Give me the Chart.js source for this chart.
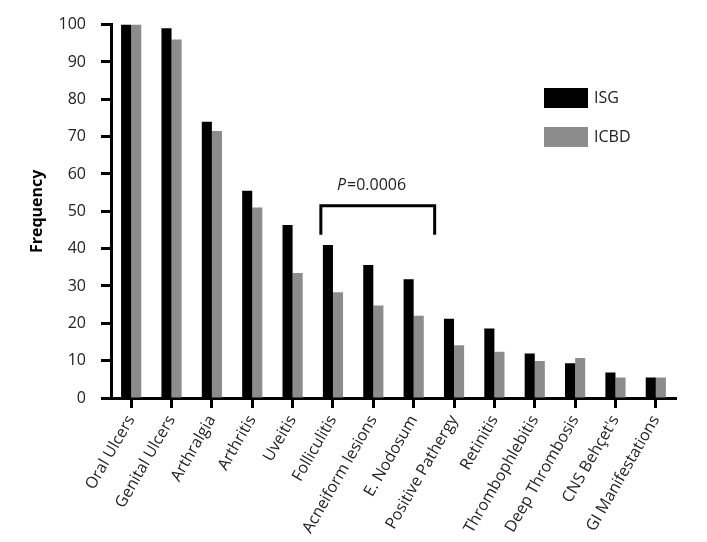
<!DOCTYPE html>
<html>
<head>
<meta charset="utf-8">
<script src="https://cdn.jsdelivr.net/npm/chart.js@4"></script>
<style>
  html, body { margin: 0; padding: 0; background: #fff; }
  #wrap { width: 707px; height: 542px; }
</style>
</head>
<body>
<div id="wrap"><canvas id="freqChart" width="707" height="542"></canvas></div>
<script>
const categories = [
  "Oral Ulcers", "Genital Ulcers", "Arthralgia", "Arthritis", "Uveitis",
  "Folliculitis", "Acneiform lesions", "E. Nodosum", "Positive Pathergy",
  "Retinitis", "Thrombophlebitis", "Deep Thrombosis", "CNS Behçet's",
  "GI Manifestations"
];
const isgValues = [100, 99, 74, 55.5, 46.3, 41, 35.6, 31.8, 21.2, 18.6, 11.9, 9.3, 6.8, 5.5];
const icbdValues = [100, 96, 71.5, 51, 33.5, 28.3, 24.8, 22, 14.1, 12.4, 9.9, 10.7, 5.5, 5.5];
const yTicks = [0, 10, 20, 30, 40, 50, 60, 70, 80, 90, 100];

const fontFam = "'Open Sans', 'Noto Sans', sans-serif";

// legend + P-value bracket drawn on top of the chart
const extras = {
  id: "extras",
  afterDraw(chart) {
    const c = chart.ctx;
    const x = chart.scales.x, y = chart.scales.y;
    const cat = x.getPixelForValue(1) - x.getPixelForValue(0);

    // bracket over Folliculitis .. E. Nodosum
    const xl = x.getPixelForValue(5) - 0.3 * cat;
    const xr = x.getPixelForValue(7) + 0.52 * cat;
    const yt = y.getPixelForValue(51.5);
    const yb = y.getPixelForValue(43.7);
    c.save();
    c.strokeStyle = "#000";
    c.lineWidth = 3;
    c.beginPath();
    c.moveTo(xl, yb);
    c.lineTo(xl, yt);
    c.lineTo(xr, yt);
    c.lineTo(xr, yb);
    c.stroke();

    c.fillStyle = "#222";
    c.textBaseline = "middle";
    c.font = "italic 16px " + fontFam;
    const px = 337, py = yt - 20;
    c.fillText("P", px, py);
    const pw = c.measureText("P").width;
    c.font = "16px " + fontFam;
    c.fillText("=0.0006", px + pw + 1, py);

    // legend
    const ds = chart.data.datasets;
    ds.forEach((d, i) => {
      const top = 88 + i * 39;
      c.fillStyle = d.backgroundColor;
      c.fillRect(544, top, 44, 20);
      c.fillStyle = "#222";
      c.font = "16px " + fontFam;
      c.fillText(d.label, 594, top + 10);
    });
    c.restore();
  }
};

new Chart(document.getElementById("freqChart"), {
  type: "bar",
  data: {
    labels: categories,
    datasets: [
      { label: "ISG", data: isgValues, backgroundColor: "#000000" },
      { label: "ICBD", data: icbdValues, backgroundColor: "#8c8c8c" }
    ]
  },
  options: {
    responsive: false,
    animation: false,
    layout: { padding: { top: 23, right: 31, left: 0, bottom: 0 } },
    datasets: { bar: { categoryPercentage: 0.5, barPercentage: 1.0 } },
    plugins: { legend: { display: false }, tooltip: { enabled: false } },
    scales: {
      x: {
        offset: true,
        grid: {
          display: true, offset: false, drawOnChartArea: false,
          drawTicks: true, tickLength: 10, tickWidth: 3, tickColor: "#000"
        },
        border: { display: true, color: "#000", width: 3 },
        ticks: {
          autoSkip: false, maxRotation: 60, minRotation: 60, padding: 4,
          color: "#222", font: { family: fontFam, size: 16 }
        },
        afterFit(scale) { scale.height = 144; }
      },
      y: {
        min: 0, max: 100,
        afterBuildTicks(scale) { scale.ticks = yTicks.map(v => ({ value: v })); },
        grid: {
          display: true, drawOnChartArea: false,
          drawTicks: true, tickLength: 10, tickWidth: 3, tickColor: "#000"
        },
        border: { display: true, color: "#000", width: 3 },
        ticks: { padding: 15, color: "#222", font: { family: fontFam, size: 16 } },
        title: {
          display: true, text: "Frequency", color: "#000",
          font: { family: fontFam, size: 16, weight: "bold" },
          padding: { top: 28, bottom: 0 }
        },
        afterFit(scale) { scale.width = 111; }
      }
    }
  },
  plugins: [extras]
});
</script>
</body>
</html>
